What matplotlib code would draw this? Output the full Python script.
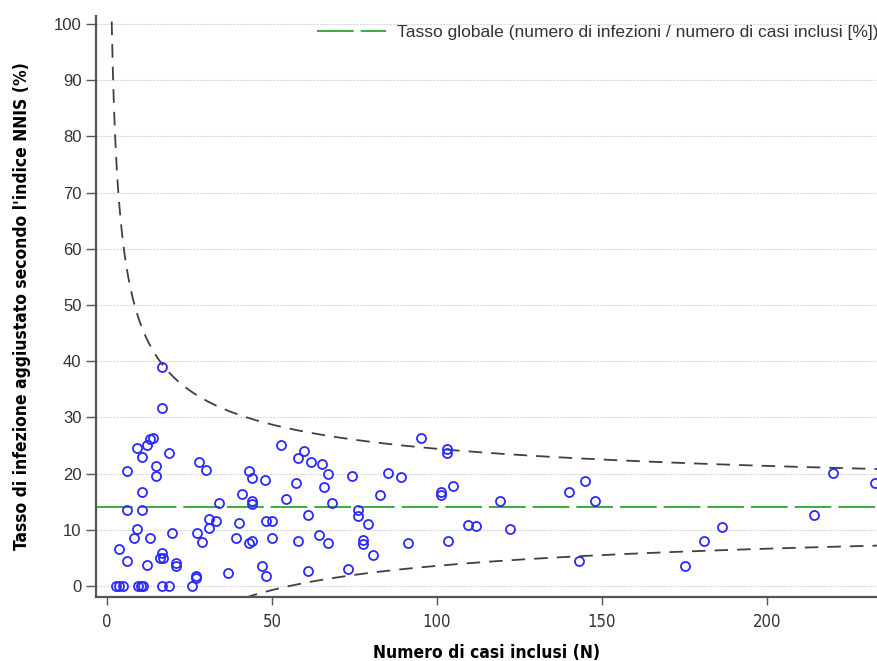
import numpy as np
import matplotlib.pyplot as plt

# casi inclusi (N) e tasso aggiustato (%) per ogni unità
casi = [2.7, 3.8, 5.0, 9.5, 10.3, 10.9, 16.6, 18.9, 25.8,
        3.8, 6.0, 6.0, 6.0, 8.1, 9.0, 9.0, 10.7, 10.7, 10.7, 12.1, 12.1, 12.9,
        13.0, 14.0, 15.0, 15.0, 16.8, 16.7, 16.6, 16.0, 16.9, 18.9, 19.7, 21.0, 21.0,
        27.0, 27.0, 27.9, 27.2, 28.9, 30.0, 31.0, 31.0, 33.1, 34.0, 36.8, 39.1,
        40.0, 40.9, 42.9, 42.9, 43.9, 43.9, 43.9, 44.1, 46.9, 47.9, 48.1, 48.1,
        49.9, 50.1, 52.8, 54.2, 57.2, 57.8, 58.0, 59.8, 61.0, 61.0, 61.8, 64.1,
        65.1, 65.7, 67.1, 67.1, 68.1, 73.0, 74.2, 76.2, 76.2, 77.7, 77.7, 79.2,
        80.6, 82.7, 85.1, 89.1, 91.1, 95.1, 101.1, 101.1, 103.1, 103.1, 103.2,
        104.9, 109.3, 111.8, 119.1, 122.1, 140.1, 143.1, 144.8, 147.8, 175.1,
        181.0, 186.2, 214.2, 220.1, 232.7]
tasso = [0, 0, 0, 0, 0, 0, 0, 0, 0,
         6.5, 4.4, 13.6, 20.4, 8.5, 10.1, 24.5, 13.6, 16.8, 23.0, 25.0, 3.7, 8.5,
         26.1, 26.4, 21.3, 19.6, 39.0, 31.6, 5.8, 5.0, 4.9, 23.6, 9.4, 4.1, 3.6,
         1.8, 1.5, 22.0, 9.5, 7.9, 20.6, 11.9, 10.4, 11.5, 14.8, 2.3, 8.6,
         11.2, 16.3, 20.4, 7.7, 19.3, 15.1, 14.5, 8.0, 3.6, 18.8, 11.5, 1.7,
         8.5, 11.5, 25.1, 15.5, 18.3, 22.8, 8.0, 24.1, 12.7, 2.6, 22.1, 9.1,
         21.7, 17.6, 19.9, 7.6, 14.8, 3.0, 19.5, 13.6, 12.5, 8.2, 7.4, 11.1,
         5.5, 16.1, 20.1, 19.4, 7.7, 26.4, 16.7, 16.1, 24.4, 23.6, 8.0,
         17.8, 10.9, 10.6, 15.2, 10.1, 16.8, 4.4, 18.6, 15.2, 3.5,
         8.0, 10.5, 12.7, 20.1, 18.3]

tasso_globale = 14.0   # %
z = 3.0                # limiti di controllo

narrow = dict(family=['DejaVu Sans'], stretch='condensed')

fig = plt.figure(figsize=(8.77, 6.61), dpi=100)
ax = fig.add_axes([0.1095, 0.0973, 0.8905, 0.8785])

# limiti del funnel plot
n = np.linspace(0.3, 240, 800)
se = np.sqrt(tasso_globale * (100 - tasso_globale) / n)
ax.plot(n, tasso_globale + z * se, color='#404040', lw=1.3, dashes=(7.5, 5))
ax.plot(n, tasso_globale - z * se, color='#404040', lw=1.3, dashes=(7.5, 5))

ax.axhline(tasso_globale, color='#1f9a1f', lw=1.2, dashes=(22, 4.2),
           label='Tasso globale (numero di infezioni / numero di casi inclusi [%])')

ax.plot(casi, tasso, 'o', mfc='none', mec='#2a2aff', mew=1.3, ms=6.5, zorder=3)

ax.set_xlim(-3.3, 233.3)
ax.set_ylim(-1.9, 101.4)
ax.set_xticks([0, 50, 100, 150, 200])
ax.set_yticks(range(0, 101, 10))
ax.yaxis.grid(True, color='#d8d8d8', lw=0.8, ls=(0, (2, 1)))
ax.set_axisbelow(True)

for s in ['top', 'right']:
    ax.spines[s].set_visible(False)
for s in ['left', 'bottom']:
    ax.spines[s].set_color('#555555')
    ax.spines[s].set_linewidth(1.6)

ax.tick_params(axis='y', length=7, width=1, color='#555555', labelcolor='#333333', labelsize=12)
ax.tick_params(axis='x', length=6, width=1, color='#555555', labelcolor='#333333',
               labelsize=12, pad=6)
for t in ax.get_yticklabels():
    t.set_family(['Liberation Sans', 'DejaVu Sans'])
for t in ax.get_xticklabels():
    t.set_fontstretch('condensed')
    t.set_family(['DejaVu Sans'])

ax.set_xlabel('Numero di casi inclusi (N)', fontsize=12.5, fontweight='bold',
              labelpad=9, **narrow)
ax.set_ylabel("Tasso di infezione aggiustato secondo l'indice NNIS (%)", fontsize=12.5,
              fontweight='bold', labelpad=16, **narrow)

leg = ax.legend(loc='upper right', bbox_to_anchor=(1.006, 0.99), frameon=False,
                handlelength=4.0, borderaxespad=0.0, borderpad=0.2, handletextpad=0.6,
                prop={'family': ['Liberation Sans', 'DejaVu Sans'], 'size': 12.5})
for t in leg.get_texts():
    t.set_color('#333333')

fig.savefig('out.png', dpi=100)
